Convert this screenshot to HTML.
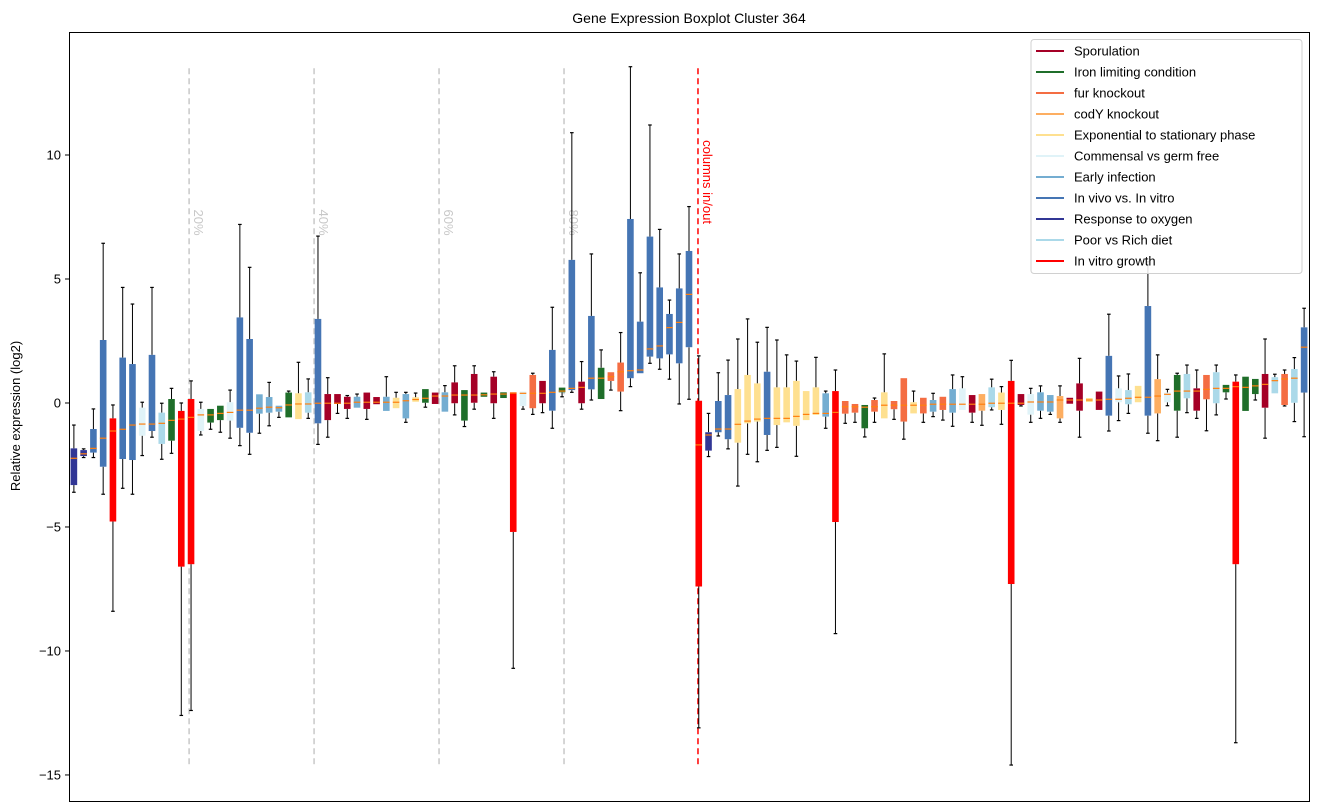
<!DOCTYPE html>
<html><head><meta charset="utf-8">
<style>
html,body{margin:0;padding:0;background:#fff;}
svg{display:block;font-family:"Liberation Sans","DejaVu Sans",sans-serif;}
</style></head>
<body>
<svg id="chart" width="1318" height="812" viewBox="0 0 1318 812" xmlns="http://www.w3.org/2000/svg">
<text x="689" y="23" text-anchor="middle" font-size="14">Gene Expression Boxplot Cluster 364</text>
<text transform="translate(20,416) rotate(-90)" text-anchor="middle" font-size="13">Relative expression (log2)</text>
<g id="grid"></g>
<g id="boxes"></g>
<g id="yaxis"></g>
<rect x="69.5" y="32.5" width="1240" height="769" fill="none" stroke="#000" stroke-width="1"/>
<g id="legend"></g>
</svg>
<script>
const groupNames=["Sporulation","Iron limiting condition","fur knockout","codY knockout","Exponential to stationary phase","Commensal vs germ free","Early infection","In vivo vs. In vitro","Response to oxygen","Poor vs Rich diet","In vitro growth"];
const groupColors=["#a50026","#1f6e2a","#f46d43","#fdae61","#fee090","#e0f3f8","#74add1","#4575b4","#313695","#abd9e9","#ff0000"];
const boxGroup=[8,8,7,7,10,7,7,5,7,9,1,10,10,5,1,1,5,7,7,6,6,6,1,4,9,7,0,0,0,6,0,0,6,4,6,4,1,0,6,0,1,0,1,0,1,10,5,2,0,7,1,7,0,7,1,2,2,7,7,7,7,7,7,7,10,8,7,7,4,4,4,7,4,4,4,4,4,6,10,2,2,1,2,4,2,2,4,2,6,2,6,5,0,3,9,4,10,0,5,6,6,3,0,0,4,0,7,5,9,4,7,3,5,1,9,0,2,9,1,10,1,1,0,9,2,9,7];
const q1=[-3.31,-2.14,-2.0,-2.57,-4.78,-2.26,-2.3,-1.32,-1.13,-1.65,-1.52,-6.6,-6.5,-1.13,-0.79,-0.69,-0.71,-1.0,-1.2,-0.43,-0.39,-0.35,-0.58,-0.65,-0.39,-0.82,-0.69,-0.04,-0.24,-0.19,-0.24,-0.05,-0.32,-0.21,-0.62,0.05,0.01,-0.04,-0.35,-0.01,-0.71,0.01,0.25,-0.01,0.2,-5.2,-0.12,-0.21,-0.01,-0.31,0.43,0.52,-0.01,0.55,0.16,0.89,0.46,1.0,1.2,1.87,1.8,1.96,1.6,2.25,-7.4,-1.92,-1.18,-1.46,-1.6,-0.82,-0.75,-1.29,-0.89,-0.78,-0.92,-0.69,-0.48,-0.55,-4.8,-0.43,-0.39,-1.02,-0.35,-0.62,-0.25,-0.75,-0.42,-0.42,-0.35,-0.28,-0.39,-0.28,-0.39,-0.31,-0.17,-0.28,-7.3,-0.08,-0.47,-0.31,-0.35,-0.62,-0.03,-0.31,0.04,-0.28,-0.51,0.03,-0.05,0.03,-0.51,-0.42,0.03,-0.31,0.19,-0.31,0.15,-0.01,0.43,-6.5,-0.32,0.36,-0.19,0.39,-0.08,0.01,0.42];
const med=[-2.23,-2.05,-1.83,-1.42,-1.13,-1.06,-0.89,-0.85,-0.85,-0.82,-0.7,-0.65,-0.58,-0.48,-0.48,-0.42,-0.38,-0.29,-0.29,-0.21,-0.17,-0.19,-0.08,-0.04,-0.04,-0.01,-0.01,-0.01,-0.01,0.03,0.03,0.03,0.03,0.03,0.09,0.14,0.19,0.28,0.28,0.32,0.32,0.32,0.33,0.36,0.36,0.4,0.39,0.39,0.39,0.43,0.48,0.59,0.63,1.0,1.0,1.06,1.26,1.3,1.33,2.18,2.3,3.04,3.25,4.38,-1.69,-1.29,-1.05,-1.05,-0.86,-0.73,-0.65,-0.62,-0.62,-0.62,-0.54,-0.46,-0.42,-0.42,-0.38,-0.15,-0.15,-0.17,-0.15,-0.09,-0.09,-0.09,-0.09,-0.09,-0.05,-0.05,-0.05,-0.05,-0.05,-0.05,-0.01,-0.01,-0.01,-0.01,0.04,0.04,0.04,0.12,0.12,0.12,0.12,0.12,0.15,0.15,0.19,0.23,0.23,0.28,0.35,0.48,0.48,0.48,0.55,0.59,0.59,0.66,0.63,0.69,0.75,0.9,0.97,1.0,2.25];
const q3=[-1.83,-1.9,-1.05,2.54,-0.62,1.83,1.57,-0.19,1.94,-0.39,0.16,-0.32,0.16,-0.24,-0.24,-0.11,0.03,3.45,2.58,0.35,0.24,-0.11,0.42,0.39,0.43,3.39,0.36,0.36,0.25,0.25,0.42,0.24,0.25,0.21,0.36,0.23,0.56,0.42,0.43,0.83,0.52,1.17,0.42,1.06,0.43,0.43,0.46,1.13,0.89,2.14,0.62,5.77,0.86,3.51,1.42,1.24,1.63,7.42,3.28,6.71,4.66,3.59,4.62,6.13,0.09,-1.18,0.08,0.32,0.56,1.13,0.79,1.26,0.63,0.63,0.89,0.48,0.63,0.39,0.48,0.08,-0.04,-0.08,0.12,0.43,0.08,1.0,0.03,0.21,0.12,0.25,0.56,0.59,0.32,0.36,0.63,0.42,0.89,0.36,0.36,0.43,0.32,0.28,0.21,0.79,0.2,0.46,1.9,0.59,0.52,0.69,3.91,0.96,0.42,1.13,1.17,0.59,1.13,1.24,0.73,0.86,1.06,0.97,1.17,1.04,1.17,1.37,3.05];
const whisLo=[-3.6,-2.2,-2.2,-3.68,-8.4,-3.44,-3.68,-2.12,-1.38,-2.27,-2.03,-12.6,-12.4,-1.29,-1.06,-1.18,-1.42,-1.72,-2.07,-1.22,-0.92,-0.58,-0.58,-0.65,-0.62,-1.67,-1.38,-0.42,-0.62,-0.19,-0.66,-0.05,-0.32,-0.21,-0.78,0.05,-0.17,-0.04,-0.35,-0.48,-0.95,-0.25,0.25,-0.62,0.2,-10.7,-0.25,-0.46,-0.39,-1.02,0.25,0.43,-0.25,0.12,0.16,0.52,-0.31,0.66,1.2,1.6,1.36,0.96,-0.04,0.15,-13.1,-2.16,-1.33,-1.85,-3.35,-2.07,-2.37,-1.91,-1.79,-0.78,-2.15,-0.69,-0.48,-1.02,-9.3,-0.82,-0.78,-1.37,-0.78,-0.62,-0.66,-1.46,-0.42,-0.78,-0.55,-0.69,-0.94,-0.28,-0.78,-0.9,-0.28,-0.86,-14.6,-0.12,-0.78,-0.62,-0.46,-0.78,-0.03,-1.38,0.04,-0.28,-1.13,-0.71,-0.42,0.03,-1.22,-1.52,-0.11,-1.38,-0.39,-0.62,-1.12,-0.48,0.16,-13.7,-0.32,0.12,-1.42,0.39,-0.12,-0.75,-1.36];
const whisHi=[-0.89,-1.85,-0.24,6.44,-0.08,4.66,3.99,0.03,4.66,-0.01,0.59,0,0.89,0.03,-0.24,-0.1,0.52,7.2,5.47,0.35,0.83,-0.11,0.48,1.64,0.97,6.73,1.02,0.36,0.3,0.36,0.42,0.24,1.06,0.43,0.43,0.4,0.56,0.42,0.7,1.5,0.52,1.5,0.42,1.26,0.43,0.45,0.46,1.2,0.89,3.86,0.62,10.9,1.67,6.01,2.14,1.24,2.84,13.56,5.25,11.21,7.0,4.15,6.01,7.92,1.9,-0.42,1.22,1.73,2.58,3.39,2.45,3.05,2.54,1.94,1.69,0.48,1.84,0.48,1.33,0.08,-0.04,-0.08,0.2,1.98,0.08,1.0,0.48,0.21,0.39,0.25,1.13,1.06,0.32,0.36,0.96,0.66,1.72,0.36,0.59,0.69,0.32,0.69,0.21,1.8,0.2,0.46,3.58,1.09,1.17,0.69,5.7,1.94,0.55,1.2,1.53,1.33,1.13,1.53,0.73,1.13,1.06,0.97,2.58,1.16,1.33,1.83,3.82];
const yTicks=[10,5,0,-5,-10,-15];
const yTickLabels=["10","5","0","\u22125","\u221210","\u221215"];
const pctLines=[12.3,25.1,37.9,50.7];
const pctLabels=["20%","40%","60%","80%"];
const inOutLine=64.42;

const NS="http://www.w3.org/2000/svg";
const PX0=69,PX1=1309,PY0=32,PY1=801;
const xMin=0,xMax=127,yMin=-16.05,yMax=14.96;
function xs(v){return PX0+(v-xMin)/(xMax-xMin)*(PX1-PX0);}
function ys(v){return PY0+(yMax-v)/(yMax-yMin)*(PY1-PY0);}
function mk(tag,attrs,parent){const e=document.createElementNS(NS,tag);for(const k in attrs)e.setAttribute(k,attrs[k]);parent.appendChild(e);return e;}

const grid=document.getElementById('grid');
pctLines.forEach((p,i)=>{
  const l=mk('line',{x1:xs(p),x2:xs(p),y1:ys(13.5),y2:ys(-14.7),stroke:'#c8c8c8','stroke-width':1.5,'stroke-dasharray':'6,4'},grid);
  
  
  const t=mk('text',{transform:`translate(${xs(p)+5},${ys(7.8)}) rotate(90)`,fill:'#c8c8c8','font-size':13},grid);
  t.textContent=pctLabels[i];
  
  
});
const rl=mk('line',{x1:xs(inOutLine),x2:xs(inOutLine),y1:ys(13.5),y2:ys(-14.7),stroke:'#ff0000','stroke-width':1.5,'stroke-dasharray':'6,4'},grid);


const rt=mk('text',{transform:`translate(${xs(inOutLine)+5},${ys(10.6)}) rotate(90)`,fill:'#ff0000','font-size':13},grid);
rt.textContent="columns in/out";



const boxes=document.getElementById('boxes');
for(let i=0;i<q1.length;i++){
  const cx=xs(i+0.5);
  const g=mk('g',{},boxes);
  
  
  const col=groupColors[boxGroup[i]];
  const yq1=ys(q1[i]),yq3=ys(q3[i]),ylo=ys(whisLo[i]),yhi=ys(whisHi[i]);
  if(yhi<yq3-0.5){mk('line',{x1:cx,x2:cx,y1:yhi,y2:yq3,stroke:'#000','stroke-width':1},g);mk('line',{x1:cx-1.8,x2:cx+1.8,y1:yhi,y2:yhi,stroke:'#000','stroke-width':1.2},g);}
  if(ylo>yq1+0.5){mk('line',{x1:cx,x2:cx,y1:yq1,y2:ylo,stroke:'#000','stroke-width':1},g);mk('line',{x1:cx-1.8,x2:cx+1.8,y1:ylo,y2:ylo,stroke:'#000','stroke-width':1.2},g);}
  mk('rect',{x:cx-3.3,y:yq3,width:6.6,height:Math.max(1.5,yq1-yq3),fill:col},g);
  mk('line',{x1:cx-3.3,x2:cx+3.3,y1:ys(med[i]),y2:ys(med[i]),stroke:'#ff7f0e','stroke-width':1.2},g);
}

const ya=document.getElementById('yaxis');
yTicks.forEach((v,i)=>{
  const t=mk('line',{x1:PX0-4,x2:PX0,y1:ys(v),y2:ys(v),stroke:'#000','stroke-width':1},ya);
  
  
  const lb=mk('text',{x:PX0-8,y:ys(v)+4.5,'text-anchor':'end','font-size':13},ya);
  lb.textContent=yTickLabels[i];
  
  
});

const lg=document.getElementById('legend');
mk('rect',{x:1031,y:39.5,width:271,height:234,rx:3,fill:'#fff','fill-opacity':0.85,stroke:'#d0d0d0','stroke-width':1},lg);
groupNames.forEach((n,i)=>{
  const y=51+i*21;
  const e=mk('g',{},lg);
  
  
  mk('line',{x1:1036,x2:1064,y1:y,y2:y,stroke:groupColors[i],'stroke-width':2},e);
  const t=mk('text',{x:1074,y:y+4.5,'font-size':13},e);
  t.textContent=n;
});
</script>
</body></html>
